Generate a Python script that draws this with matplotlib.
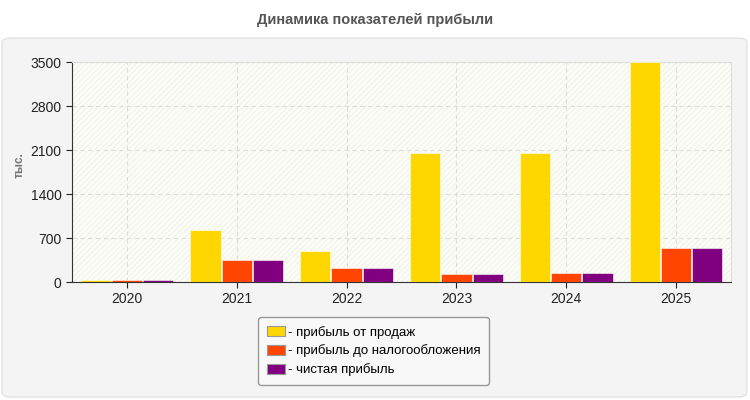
import matplotlib.pyplot as plt
import numpy as np
from matplotlib.patches import FancyBboxPatch, Patch

# ---------------------------
# Data
# ---------------------------
years = ["2020", "2021", "2022", "2023", "2024", "2025"]
sales_profit = [25, 830, 490, 2050, 2055, 3500]
pretax_profit = [25, 350, 220, 125, 145, 545]
net_profit = [25, 350, 220, 125, 145, 545]

series_names = ["- прибыль от продаж", "- прибыль до налогообложения", "- чистая прибыль"]
colors = ["#ffd700", "#ff4500", "#800080"]
yticks = [0, 700, 1400, 2100, 2800, 3500]

plt.rcParams['font.family'] = ['Liberation Sans', 'DejaVu Sans']
plt.rcParams['hatch.color'] = '#eeeee6'
plt.rcParams['hatch.linewidth'] = 0.6

fig = plt.figure(figsize=(7.5, 4), dpi=100)
fig.patch.set_facecolor("white")

# outer panel
panel = FancyBboxPatch((2 / 750, 3 / 400), 745 / 750, 359 / 400,
                       boxstyle="round,pad=0,rounding_size=0.012",
                       transform=fig.transFigure, facecolor="#f4f4f4",
                       edgecolor="#dddddd", linewidth=0.8, zorder=-1)
fig.patches.append(panel)

fig.text(0.5, 1 - 20 / 400, "Динамика показателей прибыли", ha="center", va="center",
         fontsize=10.5, fontweight="bold", color="#555555")

ax = fig.add_axes([72 / 750, 118 / 400, 659 / 750, 220 / 400])
ax.set_zorder(1)
ax.set_facecolor("#fdfdf8")
ax.add_patch(plt.Rectangle((0, 0), 1, 1, transform=ax.transAxes, facecolor="none",
                           hatch="//////", edgecolor="#eeeee6", linewidth=0, zorder=0))

x = np.arange(len(years))
w = 0.275
for i, vals in enumerate([sales_profit, pretax_profit, net_profit]):
    ax.bar(x + (i - 1) * (w + 0.01), vals, width=w, color=colors[i],
           edgecolor="white", linewidth=0.4, zorder=3)

ax.set_xlim(-0.5, len(years) - 0.5)
ax.set_ylim(0, 3500)
ax.set_xticks(x)
ax.set_xticklabels(years)
ax.set_yticks(yticks)
ax.tick_params(axis="both", labelsize=10, colors="#222222", length=4, width=0.8)
ax.grid(True, linestyle=(0, (4, 3)), color="#dddddd", linewidth=0.8, zorder=1)

for side in ["top", "right"]:
    ax.spines[side].set_color("#dddddd")
for side in ["left", "bottom"]:
    ax.spines[side].set_color("#333333")

fig.text(20 / 750, 1 - 165 / 400, "тыс.", rotation=90, ha="center", va="center",
         fontsize=8.5, fontweight="bold", color="#777777")

handles = [Patch(facecolor=c, edgecolor="#999999", linewidth=0.8) for c in colors]
leg = fig.legend(handles, series_names, loc="upper left",
                 bbox_to_anchor=(258 / 750, 1 - 317 / 400), borderaxespad=0,
                 fontsize=9.5, frameon=True, fancybox=True, handlelength=1.4,
                 handleheight=0.8, handletextpad=0.2, labelspacing=0.45, borderpad=0.65)
leg.get_frame().set_facecolor("#f8f8f8")
leg.get_frame().set_edgecolor("#999999")
leg.get_frame().set_alpha(1)

fig.savefig("out.png", dpi=100)
